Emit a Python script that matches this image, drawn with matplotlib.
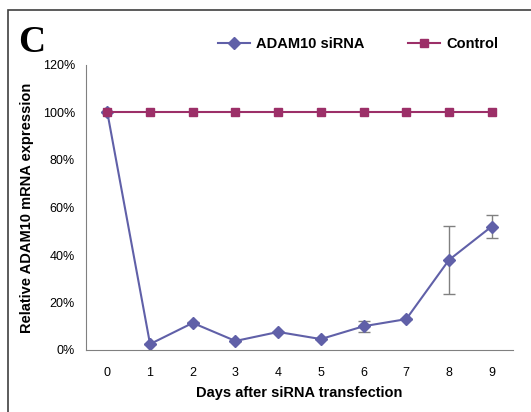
import numpy as np
import matplotlib.pyplot as plt
from matplotlib.patches import Rectangle
from matplotlib.ticker import FuncFormatter

plt.rcParams['font.family'] = ['Liberation Sans', 'DejaVu Sans']

days = [0, 1, 2, 3, 4, 5, 6, 7, 8, 9]
sirna = [1.00, 0.025, 0.114, 0.038, 0.076, 0.046, 0.10, 0.13, 0.379, 0.52]
sirna_err = [0, 0, 0.005, 0, 0, 0, 0.023, 0, 0.145, 0.05]
control = [1.0] * 10

c_sirna = '#6060a8'
c_ctrl = '#9c2f68'

fig = plt.figure(figsize=(5.31, 4.12), dpi=100)
ax = fig.add_axes([86/531, 1 - 350/412, (513 - 86)/531, (350 - 65)/412])

ax.errorbar(days, sirna, yerr=sirna_err, fmt='none', ecolor='#808080', elinewidth=1, capsize=4)
ax.plot(days, sirna, color=c_sirna, marker='D', markersize=6, lw=1.5, label='ADAM10 siRNA')
ax.plot(days, control, color=c_ctrl, marker='s', markersize=6, lw=1.5, label='Control')

ax.set_xlim(-0.5, 9.5)
ax.set_ylim(0, 1.2)
ax.set_yticks(np.arange(0, 1.21, 0.2))
ax.yaxis.set_major_formatter(FuncFormatter(lambda v, p: '%d%%' % round(v * 100)))
ax.set_xticks(days)
ax.tick_params(axis='both', length=0, labelsize=9, pad=12)
ax.tick_params(axis='y', pad=8)
for s in ['top', 'right']:
    ax.spines[s].set_visible(False)
ax.spines['left'].set_color('#808080')
ax.spines['bottom'].set_color('#808080')
ax.set_xlabel('Days after siRNA transfection', fontsize=10.5, fontweight='bold', labelpad=5)
ax.set_ylabel('Relative ADAM10 mRNA expression', fontsize=10.5, fontweight='bold', labelpad=6)

fig.legend(loc='upper left', bbox_to_anchor=(205/531, 1 - 24/412), ncol=2, frameon=False,
           prop={'weight': 'bold', 'size': 10.5}, columnspacing=3.0, handlelength=2.2,
           handletextpad=0.4)

fig.text(18/531, 1 - 52/412, 'C', fontsize=27, fontweight='bold', family='Liberation Serif')
fig.patches.append(Rectangle((8/531, -0.01), 1.1, 1 - 10/412 + 0.01, transform=fig.transFigure,
                             fill=False, edgecolor='#404040', lw=1.2))

fig.savefig('out.png', dpi=100)
